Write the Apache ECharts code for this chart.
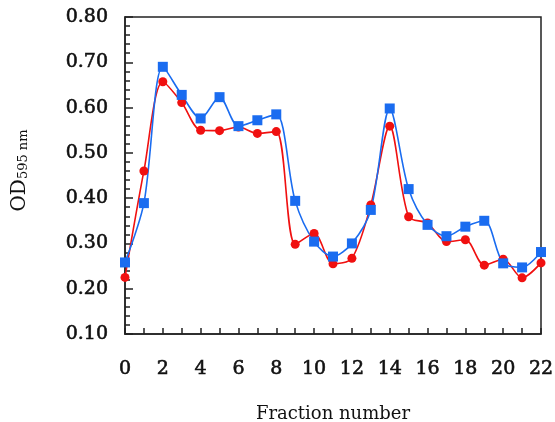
<!DOCTYPE html>
<html>
<head>
<meta charset="utf-8">
<script src="https://cdn.jsdelivr.net/npm/echarts@6/dist/echarts.min.js"></script>
<style>html,body{margin:0;padding:0;background:#fff}#c{width:555px;height:422px}</style>
</head>
<body>
<div id="c"></div>
<script>
var fractions = [0,1,2,3,4,5,6,7,8,9,10,11,12,13,14,15,16,17,18,19,20,21,22];
var blueValues = [0.258,0.389,0.69,0.628,0.576,0.623,0.559,0.572,0.585,0.394,0.304,0.271,0.300,0.374,0.598,0.420,0.341,0.316,0.337,0.350,0.256,0.247,0.281];
var redValues  = [0.225,0.460,0.657,0.611,0.550,0.549,0.557,0.543,0.547,0.298,0.322,0.255,0.267,0.385,0.559,0.359,0.345,0.304,0.308,0.252,0.265,0.224,0.257];
var yTicks = [0.10,0.20,0.30,0.40,0.50,0.60,0.70,0.80];

function pairs(vals){ return fractions.map(function(f,i){ return [f, vals[i]]; }); }

var chart = echarts.init(document.getElementById('c'));
var font = '"DejaVu Serif",serif';
chart.setOption({
  animation: false,
  backgroundColor: '#fff',
  grid: {left:125, right:14, top:17, bottom:88, outerBoundsMode:'none', containLabel:false, show:true, borderColor:'#222', borderWidth:1.5, backgroundColor:'transparent'},
  xAxis: {
    type:'value', min:0, max:22, interval:2,
    name:'Fraction number', nameLocation:'middle', nameGap:71,
    nameTextStyle:{fontFamily:font, fontSize:18, color:'#111'},
    axisLine:{show:true, onZero:false, lineStyle:{color:'#222', width:1.5}},
    axisTick:{show:true, inside:true, length:6, lineStyle:{color:'#222', width:1.5}},
    minorTick:{show:true, splitNumber:2, length:6, lineStyle:{color:'#222', width:1.5}},
    splitLine:{show:false},
    axisLabel:{fontFamily:font, fontSize:19, color:'#111', textBorderColor:'#111', textBorderWidth:0.6, margin:26}
  },
  yAxis: {
    type:'value', min:0.10, max:0.80, interval:0.10,
    name:'{a|OD}{b|595 nm}', nameLocation:'middle', nameGap:95, nameRotate:90,
    nameTextStyle:{fontFamily:font, color:'#111', padding:[0,0,0,10], rich:{
      a:{fontFamily:font, fontSize:20, color:'#111', verticalAlign:'bottom', lineHeight:22},
      b:{fontFamily:font, fontSize:13, color:'#111', verticalAlign:'bottom', lineHeight:2}
    }},
    axisLine:{show:true, lineStyle:{color:'#222', width:1.5}},
    axisTick:{show:true, inside:true, length:8, lineStyle:{color:'#222', width:1.5}},
    minorTick:{show:true, splitNumber:5, length:5, lineStyle:{color:'#222', width:1.5}},
    splitLine:{show:false},
    axisLabel:{fontFamily:font, fontSize:19, color:'#111', textBorderColor:'#111', textBorderWidth:0.6, margin:17, formatter:function(v){return v.toFixed(2);}}
  },
  series: [
    {type:'line', data:pairs(redValues), smooth:0.3, symbol:'circle', symbolSize:9,
     lineStyle:{color:'#f01010', width:1.6}, itemStyle:{color:'#f01010'}},
    {type:'line', data:pairs(blueValues), smooth:0.3, symbol:'rect', symbolSize:10,
     lineStyle:{color:'#1a6cf0', width:1.6}, itemStyle:{color:'#1a6cf0'}}
  ]
});
</script>
</body>
</html>
